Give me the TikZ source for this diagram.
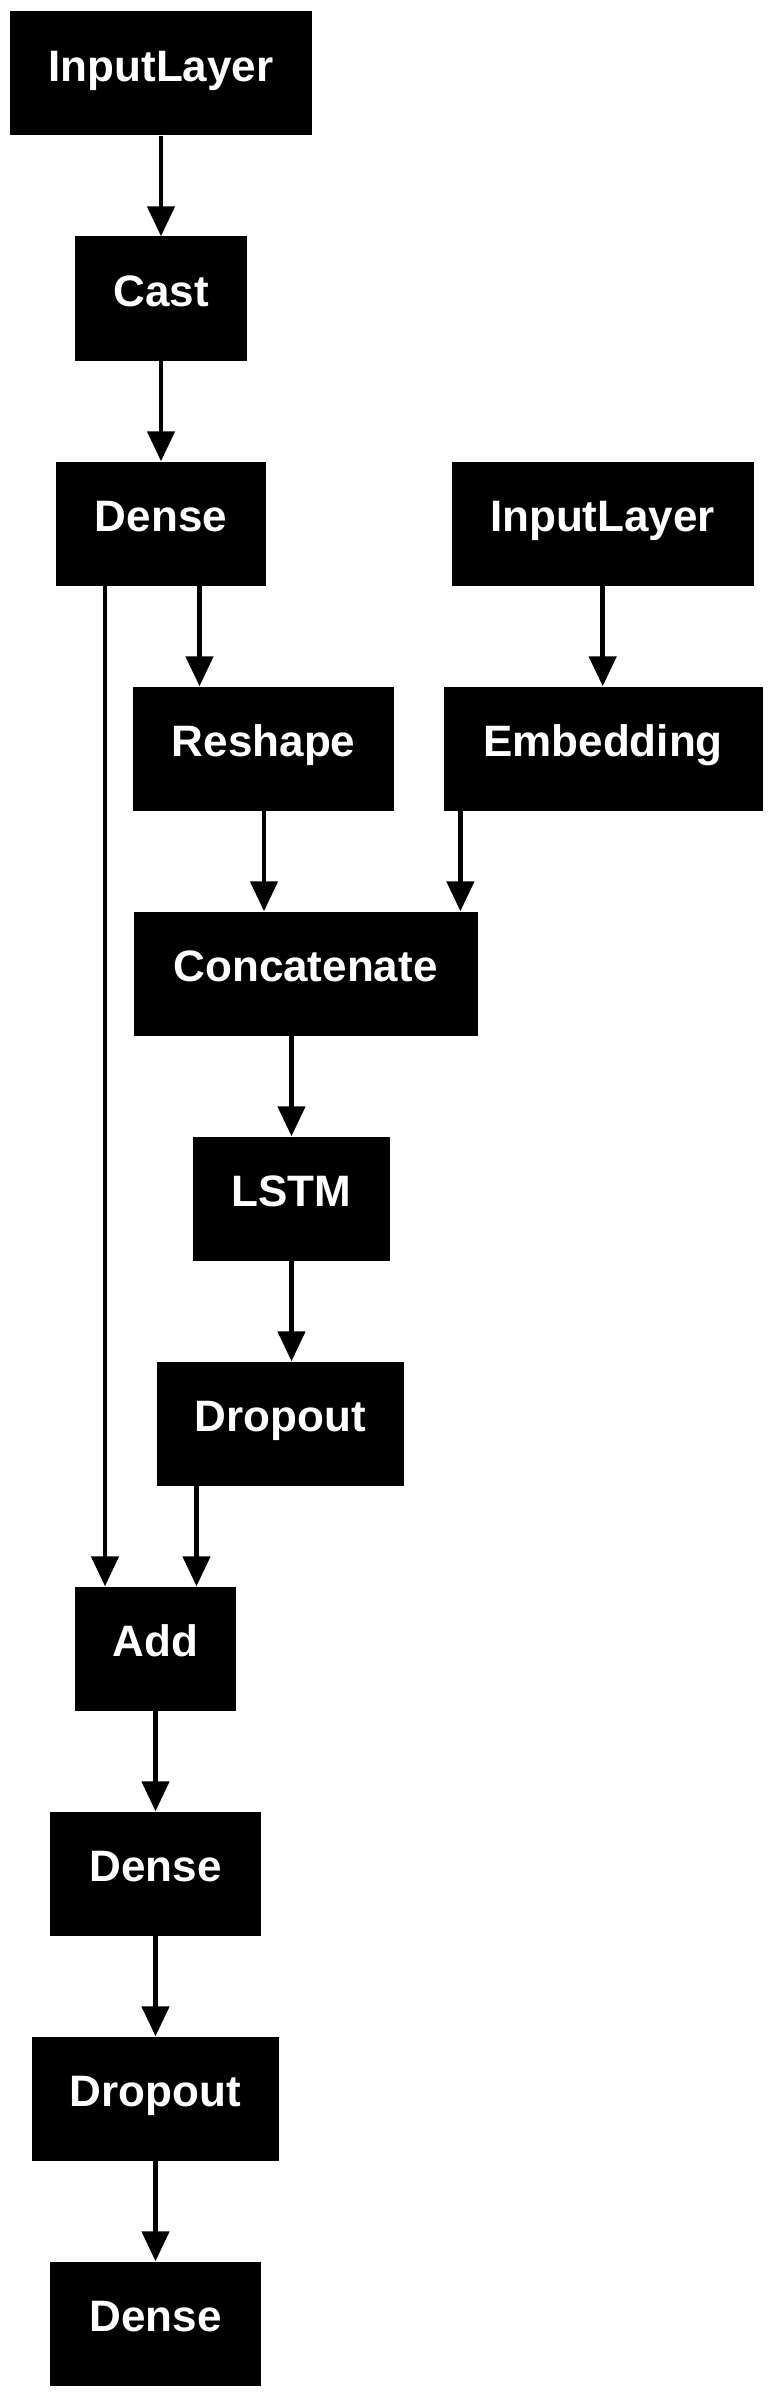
\documentclass[tikz,border=0pt]{standalone}
\usepackage{fontspec}
\setmainfont{Liberation Sans}
\usetikzlibrary{arrows.meta}
\tikzset{
  layer/.style={fill=black, draw=none, text=white, inner sep=0pt,
    minimum height=124pt, text height=32pt, text depth=16pt,
    font=\fontsize{44}{50}\selectfont\bfseries},
  edgearr/.style={line width=4.7pt, draw=black, -{Triangle[length=30pt,width=27pt]}}
}
\begin{document}
\begin{tikzpicture}[x=1pt,y=-1pt]
\useasboundingbox (0,0) rectangle (772,2397);
\node[layer, minimum width=302pt] (in1) at (161,73.5) {InputLayer};
\node[layer, minimum width=172pt] (cast) at (161,298.5) {Cast};
\node[layer, minimum width=210pt] (dense1) at (161,523.5) {Dense};
\node[layer, minimum width=302pt] (in2) at (602.5,523.5) {InputLayer};
\node[layer, minimum width=261pt] (reshape) at (263.7,748.5) {Reshape};
\node[layer, minimum width=319pt] (embed) at (603,748.5) {Embedding};
\node[layer, minimum width=344pt] (concat) at (305.5,973.5) {Concatenate};
\node[layer, minimum width=197pt] (lstm) at (291.5,1198.5) {LSTM};
\node[layer, minimum width=247pt] (drop1) at (280.5,1423.5) {Dropout};
\node[layer, minimum width=161pt] (add) at (155.5,1648.5) {Add};
\node[layer, minimum width=211pt] (dense2) at (155.5,1873.5) {Dense};
\node[layer, minimum width=247pt] (drop2) at (155.5,2098.5) {Dropout};
\node[layer, minimum width=211pt] (dense3) at (155.5,2323.5) {Dense};

\draw[edgearr] (in1.south) -- (cast.north);
\draw[edgearr] (cast.south) -- (dense1.north);
\draw[edgearr] ([xshift=38.5pt]dense1.south) -- ([xshift=-64.2pt]reshape.north);
\draw[edgearr] ([xshift=-56pt]dense1.south) -- ([xshift=-50.5pt]add.north);
\draw[edgearr] ([xshift=0.2pt]in2.south) -- ([xshift=-0.3pt]embed.north);
\draw[edgearr] ([xshift=0.3pt]reshape.south) -- ([xshift=-41.5pt]concat.north);
\draw[edgearr] ([xshift=-142.6pt]embed.south) -- ([xshift=154.9pt]concat.north);
\draw[edgearr] ([xshift=-14pt]concat.south) -- (lstm.north);
\draw[edgearr] (lstm.south) -- ([xshift=11pt]drop1.north);
\draw[edgearr] ([xshift=-84pt]drop1.south) -- ([xshift=41pt]add.north);
\draw[edgearr] (add.south) -- (dense2.north);
\draw[edgearr] (dense2.south) -- (drop2.north);
\draw[edgearr] (drop2.south) -- (dense3.north);
\end{tikzpicture}
\end{document}
